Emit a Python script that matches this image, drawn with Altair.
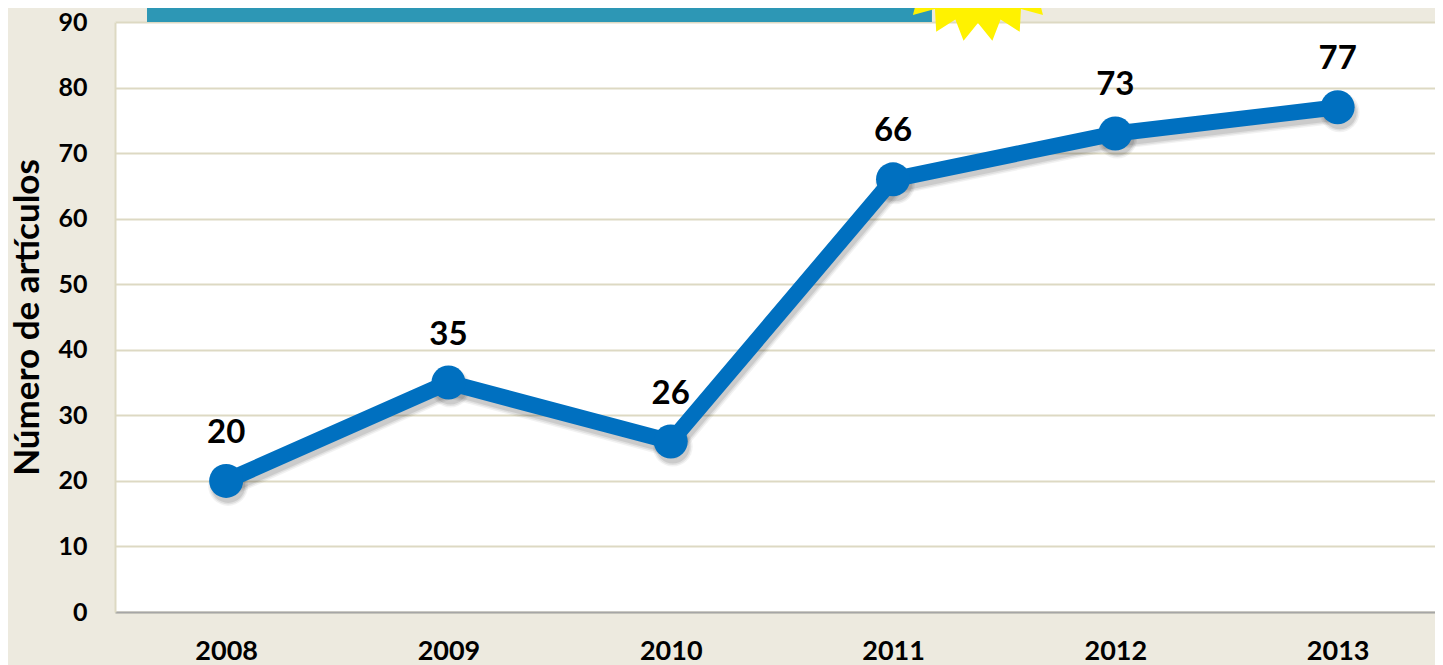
import math
import altair as alt
import pandas as pd

years = [2008, 2009, 2010, 2011, 2012, 2013]
articles = [20, 35, 26, 66, 73, 77]
y_ticks = [0, 10, 20, 30, 40, 50, 60, 70, 80, 90]

FONT = "Lato"
BLUE = "#0070C0"
GRID = "#DDD9C3"
BG = "#EDEADF"
W, H = 1320, 590
X_DOMAIN = [2007.5, 2013.438]
Y_DOMAIN = [0, 90]


def X(field):
    return alt.X(field, scale=alt.Scale(domain=X_DOMAIN, nice=False, zero=False),
                 axis=alt.Axis(values=years, format="d", title=None, grid=False, ticks=False,
                               domainColor="#A6A6A6", domainWidth=2, labelFont=FONT, labelFontSize=27,
                               labelFontWeight="bold", labelColor="#000000", labelPadding=39,
                               labelBaseline="middle", labelFlush=False))


def Y(field):
    return alt.Y(field, scale=alt.Scale(domain=Y_DOMAIN, nice=False),
                 axis=alt.Axis(values=y_ticks, title="Número de artículos", grid=True, gridColor=GRID,
                               gridWidth=2, ticks=False, domainColor=GRID, domainWidth=2,
                               labelFont=FONT, labelFontSize=25, labelFontWeight="bold",
                               labelColor="#000000", labelPadding=28, titleFont=FONT, titleFontSize=35,
                               titleFontWeight="bold", titleColor="#000000", titleX=-70))


df = pd.DataFrame({"year": years, "n": articles})

banner = alt.Chart(pd.DataFrame({"x": [2007.644], "x2": [2011.175], "y": [90], "y2": [94]})).mark_rect(
    color="#2D97B5", clip=False
).encode(x=X("x:Q"), x2="x2:Q", y=Y("y:Q"), y2="y2:Q")

N = 20
pts = []
for i in range(2 * N):
    r = 1.0 if i % 2 == 0 else 0.795
    a = math.pi * 2 * (i + 1) / (2 * N)
    pts.append(f"{r * math.sin(a):.4f},{r * math.cos(a):.4f}")
star_path = "M" + "L".join(pts) + "Z"

star = alt.Chart(pd.DataFrame({"x": [2011.382], "y": [101]})).mark_point(
    shape=star_path, filled=True, color="#FFF200", opacity=1, size=33856, clip=False
).encode(x=X("x:Q"), y=Y("y:Q"))

base = alt.Chart(df)

shadows = []
for w, o in [(22, 0.05), (19, 0.07), (16, 0.09)]:
    shadows.append(base.mark_line(color="#000000", strokeWidth=w, opacity=o, xOffset=2, yOffset=5).encode(x=X("year:Q"), y=Y("n:Q")))
    shadows.append(base.mark_point(color="#000000", filled=True, opacity=o, size=(34 + w - 16) ** 2,
                                   shape="circle", xOffset=2, yOffset=5).encode(x=X("year:Q"), y=Y("n:Q")))

line = base.mark_line(color=BLUE, strokeWidth=16).encode(x=X("year:Q"), y=Y("n:Q"))
points = base.mark_point(color=BLUE, filled=True, opacity=1, size=1156, shape="circle").encode(x=X("year:Q"), y=Y("n:Q"))
labels = base.mark_text(font=FONT, fontSize=33, fontWeight="bold", color="#000000", dy=-48,
                        baseline="middle").encode(x=X("year:Q"), y=Y("n:Q"), text="n:Q")

chart = alt.layer(banner, star, *shadows, line, points, labels).properties(
    width=W, height=H, background=BG,
    padding={"left": 107, "top": 14, "right": 0, "bottom": 53},
    autosize=alt.AutoSizeParams(type="none"),
).configure_view(fill="#FFFFFF", stroke=None)

chart.save("out.html", embed_options={"renderer": "svg", "actions": False})
